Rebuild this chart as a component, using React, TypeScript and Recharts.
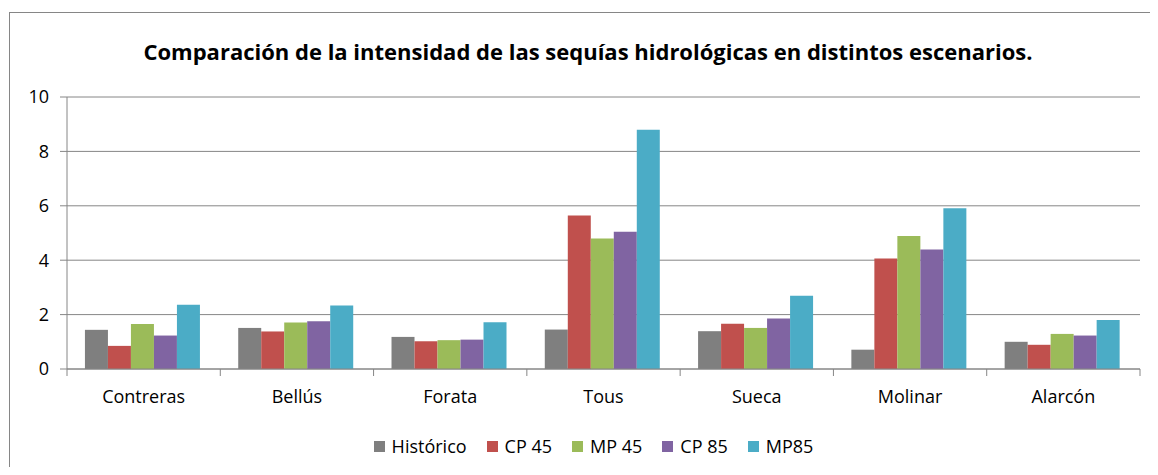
import { BarChart, Bar, XAxis, YAxis, CartesianGrid } from 'recharts';

const categories = ['Contreras', 'Bellús', 'Forata', 'Tous', 'Sueca', 'Molinar', 'Alarcón'];
const historico = [1.44, 1.51, 1.18, 1.45, 1.39, 0.71, 1.0];
const cp45 = [0.85, 1.38, 1.02, 5.64, 1.66, 4.06, 0.89];
const mp45 = [1.65, 1.71, 1.06, 4.8, 1.51, 4.89, 1.29];
const cp85 = [1.23, 1.76, 1.08, 5.05, 1.86, 4.39, 1.23];
const mp85 = [2.36, 2.33, 1.72, 8.8, 2.69, 5.91, 1.8];
const yTicks = [0, 2, 4, 6, 8, 10];

const series = [
  { key: 'historico', name: 'Histórico', color: '#7f7f7f', values: historico },
  { key: 'cp45', name: 'CP 45', color: '#c0504d', values: cp45 },
  { key: 'mp45', name: 'MP 45', color: '#9bbb59', values: mp45 },
  { key: 'cp85', name: 'CP 85', color: '#8064a2', values: cp85 },
  { key: 'mp85', name: 'MP85', color: '#4bacc6', values: mp85 },
];

const data = categories.map((name, i) => {
  const row: Record<string, string | number> = { name };
  series.forEach((s) => {
    row[s.key] = s.values[i];
  });
  return row;
});

const W = 1158;
const H = 475;
const FONT = '"Open Sans", sans-serif';
const GRID = '#868686';
const X_H = 30;
// plot area spans x 67..1140, y 97..369 like the source
const MARGIN = { top: 97, right: 18, bottom: H - 369 - X_H, left: 0 };
const Y_W = 67;
const PLOT_W = W - MARGIN.left - MARGIN.right - Y_W;

// category label plus the boundary tick marks Excel draws between groups
function CatTick(props: any) {
  const { x, y, payload, index } = props;
  const half = PLOT_W / categories.length / 2;
  const top = y - 8;
  return (
    <g>
      <line x1={x - half} x2={x - half} y1={top} y2={top + 7} stroke={GRID} strokeWidth={1} />
      {index === categories.length - 1 && (
        <line x1={x + half} x2={x + half} y1={top} y2={top + 7} stroke={GRID} strokeWidth={1} />
      )}
      <text x={x} y={y + 26} textAnchor="middle" fontSize={18} fontFamily={FONT} fill="#000">
        {payload.value}
      </text>
    </g>
  );
}

export default function App() {
  return (
    <div
      style={{
        position: 'relative',
        width: W,
        height: H,
        margin: -8,
        overflow: 'hidden',
        background: '#fff',
        fontFamily: FONT,
      }}
    >
      {/* chart frame — runs off the right and bottom edges in the source */}
      <div
        style={{
          position: 'absolute',
          left: 9,
          top: 12,
          width: W + 20,
          height: H + 20,
          borderLeft: `1px solid ${GRID}`,
          borderTop: `1px solid ${GRID}`,
        }}
      />
      <div
        style={{
          position: 'absolute',
          left: 0,
          width: 1176,
          top: 36,
          textAlign: 'center',
          fontSize: 22,
          lineHeight: '30px',
          fontWeight: 700,
          color: '#000',
          whiteSpace: 'nowrap',
        }}
      >
        Comparación de la intensidad de las sequías hidrológicas en distintos escenarios.
      </div>
      <div style={{ position: 'absolute', left: 0, top: 0 }}>
        <BarChart width={W} height={H} data={data} margin={MARGIN} barCategoryGap="11.7%" barGap={0}>
          <CartesianGrid vertical={false} stroke={GRID} strokeWidth={1} />
          <YAxis
            width={Y_W}
            domain={[0, 10]}
            ticks={yTicks}
            interval={0}
            tickSize={7}
            tickMargin={11}
            axisLine={{ stroke: GRID }}
            tickLine={{ stroke: GRID }}
            tick={{ fontSize: 18, fontFamily: FONT, fill: '#000' }}
          />
          <XAxis
            dataKey="name"
            height={X_H}
            interval={0}
            tickLine={false}
            axisLine={{ stroke: GRID }}
            tick={<CatTick />}
          />
          {series.map((s) => (
            <Bar key={s.key} dataKey={s.key} name={s.name} fill={s.color} isAnimationActive={false} />
          ))}
        </BarChart>
      </div>
      <div
        style={{
          position: 'absolute',
          left: 0,
          width: 1187,
          top: 434,
          display: 'flex',
          justifyContent: 'center',
          gap: 20,
          fontSize: 18,
          lineHeight: '24px',
          color: '#000',
        }}
      >
        {series.map((s) => (
          <div key={s.key} style={{ display: 'flex', alignItems: 'center', gap: 7 }}>
            <span style={{ width: 11, height: 11, background: s.color, display: 'inline-block' }} />
            <span>{s.name}</span>
          </div>
        ))}
      </div>
    </div>
  );
}
